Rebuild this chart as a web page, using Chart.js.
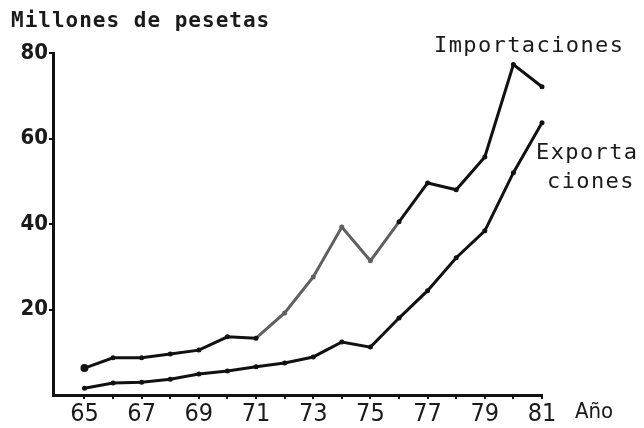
<!DOCTYPE html>
<html>
<head>
<meta charset="utf-8">
<script src="https://cdn.jsdelivr.net/npm/chart.js@4.4.1/dist/chart.umd.min.js"></script>
<style>
  html, body { margin: 0; padding: 0; background: #fff; }
  canvas { display: block; }
</style>
</head>
<body>
<canvas id="chart" width="644" height="428"></canvas>
<script>
const YEARS = [65, 66, 67, 68, 69, 70, 71, 72, 73, 74, 75, 76, 77, 78, 79, 80, 81];
const IMPORTACIONES = [6.3, 8.7, 8.7, 9.6, 10.5, 13.6, 13.3, 19.2, 27.6, 39.3, 31.4, 40.5, 49.6, 48.0, 55.7, 77.3, 72.1];
const EXPORTACIONES = [1.6, 2.8, 3.0, 3.7, 4.9, 5.6, 6.6, 7.5, 8.9, 12.4, 11.2, 18.0, 24.4, 32.1, 38.4, 52.0, 63.7];
const Y_TICKS = [20, 40, 60, 80];

const TICK_FONT = "'DejaVu Sans Condensed', 'Liberation Sans Narrow', 'DejaVu Sans', sans-serif";
const MONO = "'DejaVu Sans Mono', 'Liberation Mono', monospace";

// gray stretch of the imports line (faded print)
const grayFrom = 71, grayTo = 76;

const textPlugin = {
    id: 'labels',
    afterDraw(chart) {
        const c = chart.ctx;
        const xs = chart.scales.x;
        c.save();
        c.fillStyle = '#1a1a1a';
        c.textBaseline = 'middle';
        c.textAlign = 'left';
        c.letterSpacing = '1px';
        c.font = `bold 21px ${MONO}`;
        c.fillText('Millones de pesetas', 11, 22);
        c.font = `22px ${MONO}`;
        c.letterSpacing = '1.4px';
        c.fillText('Importaciones', 434, 46);
        c.fillText('Exporta', 536, 153);
        c.fillText('ciones', 547, 182);
        c.letterSpacing = '0px';
        c.font = `22px ${TICK_FONT}`;
        c.fillText('Año', xs.right + 33, 412);
        c.restore();
    }
};

const segColor = (ctx) => {
    const a = YEARS[ctx.p0DataIndex];
    return (a >= grayFrom && a < grayTo) ? '#606060' : '#111';
};

new Chart(document.getElementById('chart').getContext('2d'), {
    type: 'line',
    data: {
        labels: YEARS,
        datasets: [
            {
                label: 'Importaciones',
                data: YEARS.map((y, i) => ({ x: y, y: IMPORTACIONES[i] })),
                borderColor: '#111',
                backgroundColor: '#111',
                borderWidth: 3,
                pointRadius: YEARS.map(y => y === 65 ? 4 : 2.5),
                pointBackgroundColor: YEARS.map(y => (y > grayFrom && y < grayTo) ? '#606060' : '#111'),
                pointBorderWidth: 0,
                tension: 0,
                clip: false,
                segment: { borderColor: segColor }
            },
            {
                label: 'Exportaciones',
                data: YEARS.map((y, i) => ({ x: y, y: EXPORTACIONES[i] })),
                borderColor: '#111',
                backgroundColor: '#111',
                borderWidth: 3,
                pointRadius: 2.5,
                pointBorderWidth: 0,
                tension: 0,
                clip: false
            }
        ]
    },
    options: {
        responsive: false,
        animation: false,
        layout: { padding: { left: 0, top: 53, right: 102, bottom: 0 } },
        plugins: { legend: { display: false }, tooltip: { enabled: false } },
        scales: {
            x: {
                type: 'linear',
                min: 63.9, max: 81,
                afterBuildTicks: s => { s.ticks = YEARS.map(v => ({ value: v })); },
                afterFit: s => { s.height = 33; },
                border: { display: true, color: '#111', width: 3 },
                grid: { drawOnChartArea: false, drawTicks: true, tickLength: 4, color: '#111', lineWidth: 2 },
                ticks: {
                    autoSkip: false,
                    maxRotation: 0,
                    padding: 0,
                    color: '#1a1a1a',
                    font: { family: TICK_FONT, size: 25 },
                    callback: v => v % 2 ? String(v) : ''
                }
            },
            y: {
                min: 0, max: 80,
                afterBuildTicks: s => { s.ticks = Y_TICKS.map(v => ({ value: v })); },
                afterFit: s => { s.width = 53; },
                border: { display: true, color: '#111', width: 3 },
                grid: { drawOnChartArea: false, drawTicks: true, tickLength: 4, color: '#111', lineWidth: 2 },
                ticks: {
                    padding: 1,
                    color: '#1a1a1a',
                    font: { family: TICK_FONT, size: 22, weight: 'bold' }
                }
            }
        }
    },
    plugins: [textPlugin]
});
</script>
</body>
</html>
